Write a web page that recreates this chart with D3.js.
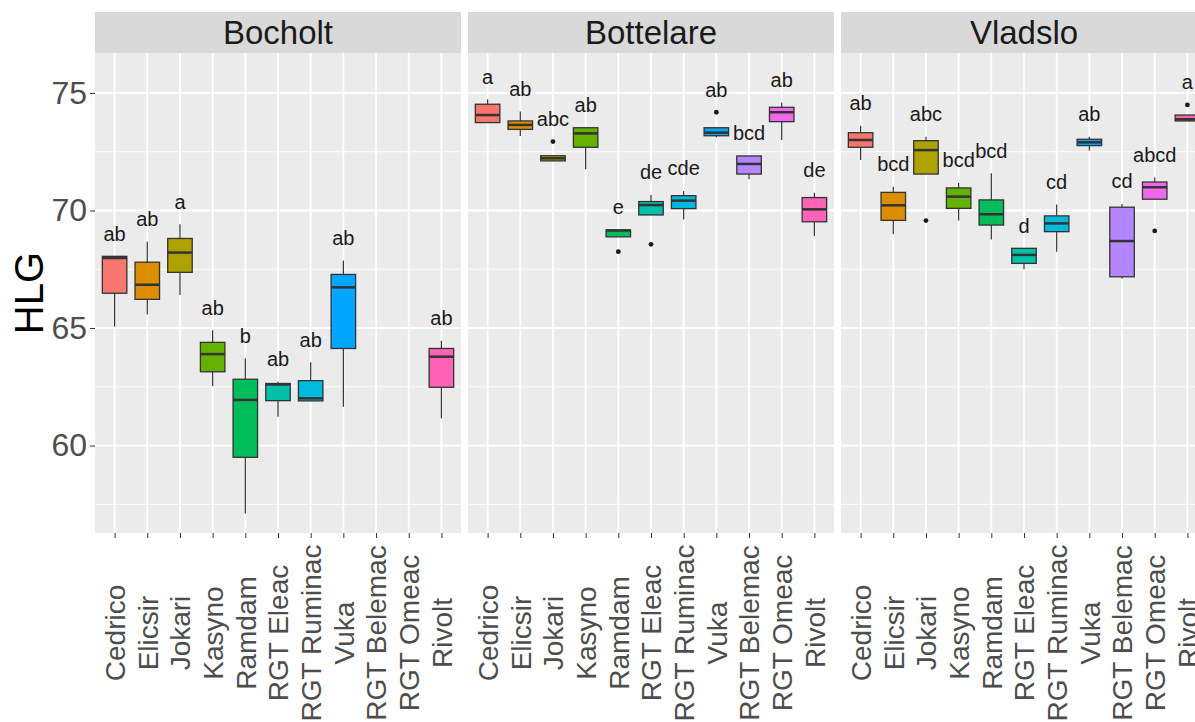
<!DOCTYPE html>
<html>
<head>
<meta charset="utf-8">
<script src="https://cdn.jsdelivr.net/npm/d3@7"></script>
<style>
  body { margin: 0; background: #fff; }
  text { font-family: "Liberation Sans", Arial, sans-serif; }
</style>
</head>
<body>
<div id="chart"></div>
<script>
var sites = ["Bocholt", "Bottelare", "Vladslo"];
var cultivars = ["Cedrico", "Elicsir", "Jokari", "Kasyno", "Ramdam", "RGT Eleac",
  "RGT Ruminac", "Vuka", "RGT Belemac", "RGT Omeac", "Rivolt"];
var colors = ["#F8766D", "#DB8E00", "#AEA200", "#64B200", "#00BD5C", "#00C1A7",
  "#00BADE", "#00A6FF", "#B385FF", "#EF67EB", "#FF63B6"];
var yTicks = [60, 65, 70, 75];
var yMinor = [57.5, 62.5, 67.5, 72.5];

// [lower whisker, Q1, median, Q3, upper whisker] per cultivar, null = not grown
var bocholt = [
  [65.06, 66.48, 67.98, 68.05, 68.05],
  [65.58, 66.22, 66.84, 67.80, 68.67],
  [66.40, 67.37, 68.21, 68.81, 69.41],
  [62.53, 63.14, 63.89, 64.39, 64.91],
  [57.11, 59.50, 61.94, 62.82, 63.71],
  [61.23, 61.91, 62.60, 62.64, 62.71],
  [61.90, 61.90, 62.01, 62.76, 63.54],
  [61.65, 64.13, 66.73, 67.28, 67.87],
  null,
  null,
  [61.16, 62.48, 63.78, 64.13, 64.46]
];
var bottelare = [
  [73.72, 73.74, 74.06, 74.52, 74.73],
  [73.17, 73.45, 73.64, 73.81, 74.21],
  [72.11, 72.11, 72.22, 72.33, 72.35],
  [71.75, 72.69, 73.28, 73.52, 73.52],
  [68.88, 68.88, 69.15, 69.17, 69.17],
  [69.81, 69.81, 70.23, 70.38, 70.66],
  [69.62, 70.08, 70.42, 70.63, 70.83],
  [73.11, 73.18, 73.31, 73.52, 73.52],
  [71.33, 71.55, 71.98, 72.32, 72.32],
  [73.00, 73.78, 74.18, 74.39, 74.59],
  [68.91, 69.52, 70.05, 70.55, 70.76]
];
var vladslo = [
  [72.15, 72.69, 73.00, 73.31, 73.60],
  [68.99, 69.58, 70.22, 70.77, 71.01],
  [71.55, 71.55, 72.57, 72.97, 73.14],
  [69.57, 70.09, 70.59, 70.96, 71.18],
  [68.77, 69.38, 69.84, 70.45, 71.58],
  [67.50, 67.75, 68.11, 68.39, 68.39],
  [68.25, 69.10, 69.45, 69.77, 70.26],
  [72.55, 72.76, 72.90, 73.03, 73.14],
  [67.11, 67.18, 68.70, 70.14, 70.28],
  [70.48, 70.48, 70.99, 71.21, 71.40],
  [73.81, 73.81, 73.88, 74.06, 74.06]
];

var bocholtOut = [[], [], [], [], [], [], [], [], [], [], []];
var bottelareOut = [[], [], [72.93], [], [68.25], [68.56], [], [74.18], [], [], []];
var vladsloOut = [[], [], [69.57], [], [], [], [], [], [], [69.13], [74.49]];

var bocholtLetters = ["ab", "ab", "a", "ab", "b", "ab", "ab", "ab", "", "", "ab"];
var bottelareLetters = ["a", "ab", "abc", "ab", "e", "de", "cde", "ab", "bcd", "ab", "de"];
var vladsloLetters = ["ab", "bcd", "abc", "bcd", "bcd", "d", "cd", "ab", "cd", "abcd", "a"];

var stats = [bocholt, bottelare, vladslo];
var outs = [bocholtOut, bottelareOut, vladsloOut];
var letters = [bocholtLetters, bottelareLetters, vladsloLetters];

var svgWidth = 1195;
var svgHeight = 722;
var panelLeft = 95, panelW = 366, panelGap = 7;
var stripTop = 12, stripH = 41;
var panelTop = stripTop + stripH, panelBottom = 533;

var svg = d3.select("#chart")
  .append("svg")
  .attr("width", svgWidth)
  .attr("height", svgHeight);

var y = d3.scaleLinear()
  .domain([56.28, 76.7])
  .range([panelBottom, panelTop]);

var x = d3.scalePoint()
  .domain(cultivars)
  .range([0, panelW])
  .padding(0.6);

var boxW = x.step() * 0.75;

sites.forEach(function(site, si) {
  var g = svg.append("g")
    .attr("transform", `translate(${panelLeft + si * (panelW + panelGap)}, 0)`);

  // strip
  g.append("rect")
    .attr("x", 0).attr("y", stripTop)
    .attr("width", panelW).attr("height", stripH)
    .attr("fill", "#D9D9D9");
  g.append("text")
    .attr("x", panelW / 2).attr("y", stripTop + stripH / 2)
    .attr("dy", "0.36em")
    .attr("text-anchor", "middle")
    .attr("font-size", 33)
    .attr("fill", "#1A1A1A")
    .text(site);

  // panel background and grid
  g.append("rect")
    .attr("x", 0).attr("y", panelTop)
    .attr("width", panelW).attr("height", panelBottom - panelTop)
    .attr("fill", "#EBEBEB");

  g.selectAll(".minor").data(yMinor).enter().append("line")
    .attr("x1", 0).attr("x2", panelW)
    .attr("y1", d => y(d)).attr("y2", d => y(d))
    .attr("stroke", "#fff").attr("stroke-width", 0.9);
  g.selectAll(".major").data(yTicks).enter().append("line")
    .attr("x1", 0).attr("x2", panelW)
    .attr("y1", d => y(d)).attr("y2", d => y(d))
    .attr("stroke", "#fff").attr("stroke-width", 1.8);
  g.selectAll(".vgrid").data(cultivars).enter().append("line")
    .attr("x1", d => x(d)).attr("x2", d => x(d))
    .attr("y1", panelTop).attr("y2", panelBottom)
    .attr("stroke", "#fff").attr("stroke-width", 1.8);

  // x axis
  var xAxis = g.append("g")
    .attr("transform", `translate(0, ${panelBottom})`)
    .call(d3.axisBottom(x).tickSize(5).tickPadding(0));
  xAxis.select(".domain").remove();
  xAxis.selectAll("line").attr("stroke", "#333333").attr("stroke-width", 1);
  xAxis.selectAll("text")
    .attr("fill", "#4D4D4D")
    .attr("font-size", 28)
    .attr("text-anchor", "middle")
    .attr("transform", "translate(0, 100) rotate(-90)")
    .attr("x", 0).attr("y", 0)
    .attr("dy", "0.35em");

  if (si === 0) {
    var yAxis = g.append("g")
      .call(d3.axisLeft(y).tickValues(yTicks).tickSize(5).tickPadding(3));
    yAxis.select(".domain").remove();
    yAxis.selectAll("line").attr("stroke", "#333333").attr("stroke-width", 1);
    yAxis.selectAll("text")
      .attr("fill", "#4D4D4D")
      .attr("font-size", 32);
  }

  var rows = cultivars.map(function(c, i) {
    return { name: c, s: stats[si][i], out: outs[si][i], lab: letters[si][i], col: colors[i] };
  }).filter(d => d.s);

  var box = g.selectAll(".box").data(rows).enter().append("g");

  box.append("line")
    .attr("x1", d => x(d.name)).attr("x2", d => x(d.name))
    .attr("y1", d => y(d.s[4])).attr("y2", d => y(d.s[3]))
    .attr("stroke", "#333333").attr("stroke-width", 1.2);
  box.append("line")
    .attr("x1", d => x(d.name)).attr("x2", d => x(d.name))
    .attr("y1", d => y(d.s[1])).attr("y2", d => y(d.s[0]))
    .attr("stroke", "#333333").attr("stroke-width", 1.2);
  box.append("rect")
    .attr("x", d => x(d.name) - boxW / 2)
    .attr("width", boxW)
    .attr("y", d => y(d.s[3]))
    .attr("height", d => Math.max(1, y(d.s[1]) - y(d.s[3])))
    .attr("fill", d => d.col)
    .attr("stroke", "#333333").attr("stroke-width", 1.3);
  box.append("line")
    .attr("x1", d => x(d.name) - boxW / 2).attr("x2", d => x(d.name) + boxW / 2)
    .attr("y1", d => y(d.s[2])).attr("y2", d => y(d.s[2]))
    .attr("stroke", "#333333").attr("stroke-width", 2.5);

  box.selectAll("circle").data(d => d.out.map(v => ({ name: d.name, v: v })))
    .enter().append("circle")
    .attr("cx", d => x(d.name)).attr("cy", d => y(d.v))
    .attr("r", 2.4).attr("fill", "#1A1A1A");

  box.append("text")
    .attr("x", d => x(d.name))
    .attr("y", d => y(d3.max([d.s[4]].concat(d.out)) + 0.66))
    .attr("text-anchor", "middle")
    .attr("font-size", 20)
    .attr("fill", "#1A1A1A")
    .text(d => d.lab);
});

svg.append("text")
  .attr("transform", `translate(43, ${(panelTop + panelBottom) / 2}) rotate(-90)`)
  .attr("text-anchor", "middle")
  .attr("font-size", 40)
  .attr("fill", "#000")
  .text("HLG");
</script>
</body>
</html>
